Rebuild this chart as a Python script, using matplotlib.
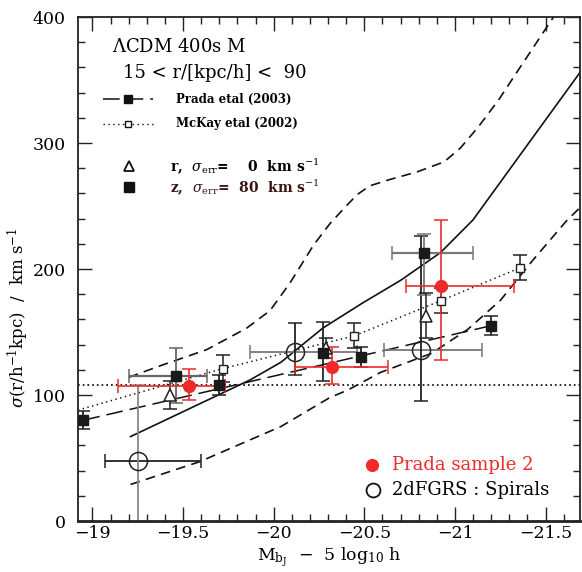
import matplotlib
matplotlib.use('Agg')
import matplotlib.pyplot as plt
from matplotlib.ticker import MultipleLocator
from matplotlib.lines import Line2D

plt.rcParams['font.family'] = ['DejaVu Serif']
plt.rcParams['mathtext.fontset'] = 'dejavuserif'
plt.rcParams['lines.scale_dashes'] = False

# ---- model curves (LCDM) ----
mid_x = [-19.21, -19.87, -20.04, -20.27, -20.49, -20.70, -20.92, -21.10, -21.14, -21.69]
mid_y = [67, 112, 126, 153, 173, 191, 213, 239, 247, 356]
up_x = [-19.20, -19.37, -19.63, -19.85, -19.98, -20.09, -20.22, -20.31, -20.40, -20.46,
        -20.53, -20.64, -20.79, -20.94, -21.03, -21.13, -21.24, -21.35, -21.47, -21.59]
up_y = [114, 123, 136, 153, 167, 189, 219, 236, 250, 259,
        266, 271, 277, 285, 296, 313, 334, 358, 384, 410]
lo_x = [-19.21, -19.59, -20.04, -20.31, -20.41, -20.59, -20.87, -21.07, -21.25, -21.43, -21.62, -21.70]
lo_y = [29, 47, 75, 98, 104, 118, 133, 152, 175, 207, 239, 250]

# ---- horizontal reference level ----
ref_level = 108

# ---- Prada et al (2003), filled squares ----
prada_x = [-18.95, -19.46, -19.70, -20.27, -20.48, -20.83, -21.20]
prada_y = [80, 115, 108, 133, 130, 213, 155]
prada_ylo = [7, 21, 8, 22, 8, 34, 7.5]
prada_yhi = [7, 22, 8, 25, 8, 15, 7.5]
prada_xneg = [0, 0.17, 0, 0, 0, 0.27, 0]
prada_xpos = [0, 0.26, 0, 0, 0, 0.18, 0]
prada_fit_x = [-18.95, -21.20]
prada_fit_y = [80, 155]

# ---- McKay et al (2002), open squares ----
mckay_x = [-19.72, -20.445, -20.925, -21.36]
mckay_y = [121, 147, 175, 201]
mckay_err = [11, 10, 10, 10]
mckay_line_x = [-18.92] + mckay_x
mckay_line_y = [88] + mckay_y

# ---- r, sigma_err = 0 : open triangles ----
tri_x = [-19.43, -20.29, -20.84]
tri_y = [100, 137, 163]
tri_err = [11, 8, 18]

# ---- Prada sample 2 : red circles ----
red_x = [-19.53, -20.32, -20.925]
red_y = [107, 122, 186.5]
red_xneg = [0.20, 0.31, 0.40]
red_xpos = [0.39, 0.20, 0.195]
red_ylo = [11, 13, 59]
red_yhi = [14, 16, 52]

# ---- 2dFGRS spirals : open circles ----
dfc_x = [-19.25, -20.12, -20.81]
dfc_y = [48, 134, 136]
dfc_xneg = [0.35, 0.34, 0.34]
dfc_xpos = [0.18, 0.25, 0.20]
dfc_ylo = [60, 18, 41]
dfc_yhi = [60, 23, 90]

fig = plt.figure(figsize=(5.82, 5.72), dpi=100)
ax = fig.add_axes([78/582, 1-521/572, 502/582, 504/572])
ax.set_xlim(-18.92, -21.69)
ax.set_ylim(0, 400)

# model curves
ax.plot(mid_x, mid_y, color='#111', lw=1.2)
ax.plot(up_x, up_y, color='#111', lw=1.2, dashes=(7, 4.5))
ax.plot(lo_x, lo_y, color='#111', lw=1.2, dashes=(7, 4.5))
ax.axhline(ref_level, color='#111', lw=1.3, dashes=(1.2, 2.2))

# Prada 2003 fit line
ax.plot(prada_fit_x, prada_fit_y, color='#111', lw=1.1, dashes=(12, 5))
# McKay dotted
ax.plot(mckay_line_x, mckay_line_y, color='#111', lw=1.1, dashes=(1, 2.5))

cap = 5
# 2dFGRS circles error bars
dfc_xcol = ['#222', '#777', '#777']
dfc_ycol = ['#888', '#222', '#222']
for i in range(len(dfc_x)):
    ax.errorbar([dfc_x[i]], [dfc_y[i]], xerr=[[dfc_xneg[i]], [dfc_xpos[i]]], fmt='none',
                ecolor=dfc_xcol[i], elinewidth=1.3, capsize=cap, capthick=1.1)
    ax.errorbar([dfc_x[i]], [dfc_y[i]], yerr=[[dfc_ylo[i]], [dfc_yhi[i]]], fmt='none',
                ecolor=dfc_ycol[i], elinewidth=1.3, capsize=cap, capthick=1.1)

# Prada squares error bars
prada_col = ['#222', '#666', '#222', '#222', '#222', '#777', '#222']
for i in range(len(prada_x)):
    ax.errorbar([prada_x[i]], [prada_y[i]], yerr=[[prada_ylo[i]], [prada_yhi[i]]], fmt='none',
                ecolor=prada_col[i], elinewidth=1.3, capsize=cap, capthick=1.1)
    if prada_xneg[i] > 0:
        ax.errorbar([prada_x[i]], [prada_y[i]], xerr=[[prada_xneg[i]], [prada_xpos[i]]], fmt='none',
                    ecolor=prada_col[i], elinewidth=1.6, capsize=cap, capthick=1.1)

# McKay error bars
ax.errorbar(mckay_x, mckay_y, yerr=mckay_err, fmt='none', ecolor='#222',
            elinewidth=1.1, capsize=cap, capthick=1.1)
# triangle error bars
ax.errorbar(tri_x, tri_y, yerr=tri_err, fmt='none', ecolor='#222',
            elinewidth=1.1, capsize=cap, capthick=1.1)
# red error bars
ax.errorbar(red_x, red_y, xerr=[red_xneg, red_xpos], yerr=[red_ylo, red_yhi], fmt='none',
            ecolor='#ee2a2a', elinewidth=1.2, capsize=cap, capthick=1.1)

# markers
ax.plot(dfc_x, dfc_y, 'o', ms=13, mfc='none', mec='#222', mew=1.1, ls='none')
ax.plot(mckay_x, mckay_y, 's', ms=6, mfc='white', mec='#222', mew=1.0, ls='none')
ax.plot(tri_x, tri_y, '^', ms=8, mfc='white', mec='#222', mew=1.1, ls='none')
ax.plot(prada_x, prada_y, 's', ms=7, mfc='#1a1a1a', mec='#1a1a1a', ls='none')
ax.plot(red_x, red_y, 'o', ms=8.5, mfc='#ee2a2a', mec='#ee2a2a', ls='none')

# ticks
ax.xaxis.set_major_locator(MultipleLocator(0.5))
ax.xaxis.set_minor_locator(MultipleLocator(0.1))
ax.yaxis.set_major_locator(MultipleLocator(100))
ax.yaxis.set_minor_locator(MultipleLocator(20))
ax.tick_params(which='both', direction='in', top=True, right=True, width=1.0, color='#222')
ax.tick_params(which='major', length=10)
ax.tick_params(which='minor', length=5)
ax.tick_params(axis='x', which='major', labelsize=12.5, pad=3)
ax.tick_params(axis='y', which='major', labelsize=12.5, pad=9)
for s in ax.spines.values():
    s.set_linewidth(1.3)
    s.set_color('#222')
ax.spines['bottom'].set_linewidth(2.0)

ax.set_xticks([-19, -19.5, -20, -20.5, -21, -21.5])
ax.set_xticklabels(['\u221219', '\u221219.5', '\u221220', '\u221220.5', '\u221221', '\u221221.5'])

ax.set_xlabel(r'M$_{\rm b_J}$  $-$  5 log$_{10}$ h', fontsize=12.5, labelpad=2)
ax.text(-0.118, 0.403, r'$\sigma$(r/h$^{-1}$kpc)  /  km s$^{-1}$', transform=ax.transAxes,
        rotation=90, ha='center', va='center', fontsize=12)

# annotation block (upper left)
tr = ax.transAxes
ax.text(0.068, 0.940, r'$\Lambda$CDM 400s M', transform=tr, fontsize=13, va='center')
ax.text(0.090, 0.889, '15 < r/[kpc/h] <  90', transform=tr, fontsize=13, va='center')
ax.add_line(Line2D([0.050, 0.150], [0.837, 0.837], transform=tr, color='#111', lw=1.1, dashes=(12, 5)))
ax.add_line(Line2D([0.100], [0.837], transform=tr, marker='s', ms=5.5, color='#111', ls='none'))
ax.text(0.195, 0.837, 'Prada etal (2003)', transform=tr, fontsize=8.5, fontweight='bold', va='center')
ax.add_line(Line2D([0.050, 0.150], [0.788, 0.788], transform=tr, color='#111', lw=1.0, dashes=(1, 2.5)))
ax.add_line(Line2D([0.100], [0.788], transform=tr, marker='s', ms=5, mfc='white', mec='#111', ls='none'))
ax.text(0.195, 0.788, 'McKay etal (2002)', transform=tr, fontsize=8.5, fontweight='bold', va='center')
ax.add_line(Line2D([0.102], [0.704], transform=tr, marker='^', ms=7, mfc='white', mec='#111', mew=1.3, ls='none'))
ax.text(0.183, 0.704, r'r,  $\sigma_{\rm err}$=    0  km s$^{-1}$', transform=tr, fontsize=10,
        fontweight='bold', va='center')
ax.add_line(Line2D([0.102], [0.663], transform=tr, marker='s', ms=6.5, color='#111', ls='none'))
ax.text(0.183, 0.663, r'z,  $\sigma_{\rm err}$=  80  km s$^{-1}$', transform=tr, fontsize=10,
        fontweight='bold', va='center', color='#3a1414')

# annotation block (lower right)
ax.add_line(Line2D([0.586], [0.111], transform=tr, marker='o', ms=8.5, color='#ee2a2a', ls='none'))
ax.text(0.625, 0.111, 'Prada sample 2', transform=tr, fontsize=13, va='center', color='#ee2a2a')
ax.add_line(Line2D([0.588], [0.062], transform=tr, marker='o', ms=10, mfc='none', mec='#111', mew=1.3, ls='none'))
ax.text(0.625, 0.062, '2dFGRS : Spirals', transform=tr, fontsize=13, va='center')

fig.savefig('out.png', dpi=100)
